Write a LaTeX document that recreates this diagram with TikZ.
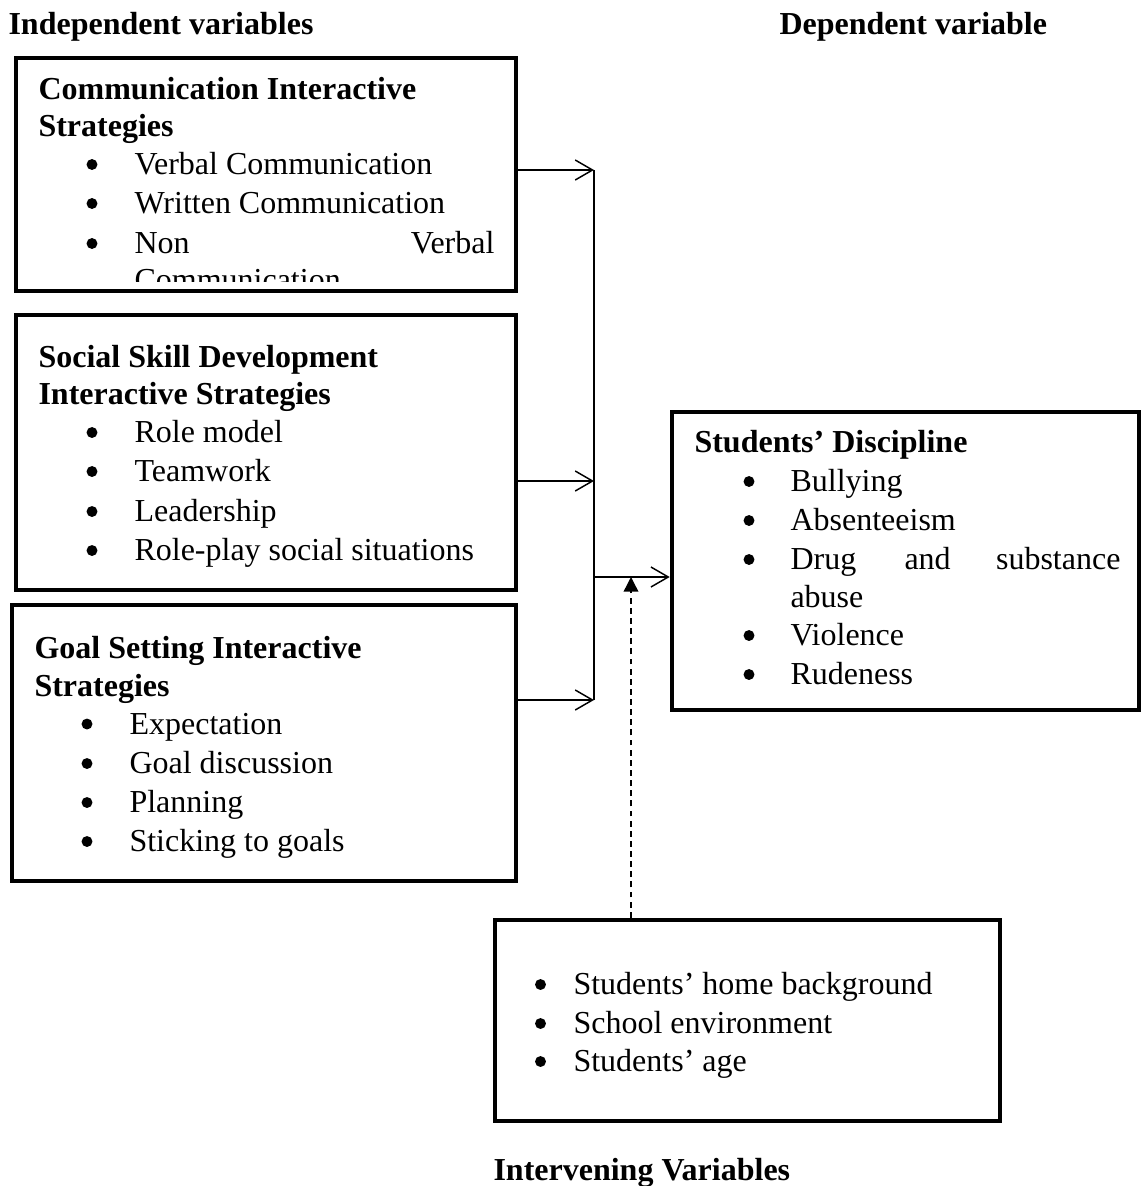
\documentclass[tikz,border=0pt]{standalone}
\usepackage{fontspec}
\setmainfont{Liberation Serif}
\usetikzlibrary{arrows.meta,fit}
\begin{document}
\begin{tikzpicture}[x=0.375pt,y=-0.375pt,
  box/.style={draw, line width=1.7pt, rectangle, inner sep=0pt},
  txt/.style={anchor=base west, inner sep=0pt, font=\fontsize{12}{14}\selectfont},
  txte/.style={anchor=base east, inner sep=0pt, font=\fontsize{12}{14}\selectfont},
  hd/.style={anchor=base west, inner sep=0pt, font=\fontsize{12}{14}\selectfont\bfseries},
  dot/.style={circle, fill=black, inner sep=0pt, minimum size=4.1pt},
  conn/.style={line width=0.55pt},
  arr/.style={conn, -{Straight Barb[length=6.5pt,width=7.5pt]}},
  dasharr/.style={conn, dash pattern=on 2.2pt off 1.6pt, -{Triangle[length=5.5pt,width=5.5pt]}}
]
\useasboundingbox (0,0) rectangle (1142,1186);

% titles
\node[hd] (tind) at (8,34) {Independent variables};
\node[hd] (tdep) at (779,34) {Dependent variable};
\node[hd] (tint) at (493,1180) {Intervening Variables};

% box 1
\begin{scope}
\clip (16,58) rectangle (516,281);
\node[txt] (c4b) at (134,290) {Communication};
\end{scope}
\node[box, fit={(16,58) (516,291)}] (b1) {};
\node[hd] (h1a) at (38,99) {Communication Interactive};
\node[hd] (h1b) at (38,136) {Strategies};
\node[dot] (p11) at (92,164.5) {}; \node[txt] (c1) at (134,174) {Verbal Communication};
\node[dot] (p12) at (92,203.5) {}; \node[txt] (c2) at (134,213) {Written Communication};
\node[dot] (p13) at (92,243.5) {}; \node[txt] (c3a) at (134,253) {Non}; \node[txte] (c3b) at (495,253) {Verbal};

% box 2
\node[box, fit={(16,315) (516,590)}] (b2) {};
\node[hd] (h2a) at (38,367) {Social Skill Development};
\node[hd] (h2b) at (38,404) {Interactive Strategies};
\node[dot] (p21) at (92,432.5) {}; \node[txt] (s1) at (134,442) {Role model};
\node[dot] (p22) at (92,471.5) {}; \node[txt] (s2) at (134,481) {Teamwork};
\node[dot] (p23) at (92,511.5) {}; \node[txt] (s3) at (134,521) {Leadership};
\node[dot] (p24) at (92,550.5) {}; \node[txt] (s4) at (134,560) {Role-play social situations};

% box 3
\node[box, fit={(12,605) (516,881)}] (b3) {};
\node[hd] (h3a) at (34,658) {Goal Setting Interactive};
\node[hd] (h3b) at (34,696) {Strategies};
\node[dot] (p31) at (87,724) {}; \node[txt] (g1) at (129,734) {Expectation};
\node[dot] (p32) at (87,763.5) {}; \node[txt] (g2) at (129,773) {Goal discussion};
\node[dot] (p33) at (87,802.5) {}; \node[txt] (g3) at (129,812) {Planning};
\node[dot] (p34) at (87,841.5) {}; \node[txt] (g4) at (129,851) {Sticking to goals};

% box 4
\node[box, fit={(672,412) (1139,710)}] (b4) {};
\node[hd] (h4) at (694,452) {Students’ Discipline};
\node[dot] (p41) at (749,481.5) {}; \node[txt] (d1) at (790,491) {Bullying};
\node[dot] (p42) at (749,520.5) {}; \node[txt] (d2) at (790,530) {Absenteeism};
\node[dot] (p43) at (749,559.5) {}; \node[txt] (d3a) at (790,569) {Drug};
\node[txt] (d3b) at (904,569) {and}; \node[txte] (d3c) at (1121,569) {substance};
\node[txt] (d3d) at (790,607) {abuse};
\node[dot] (p44) at (749,635.5) {}; \node[txt] (d4) at (790,645) {Violence};
\node[dot] (p45) at (749,674.5) {}; \node[txt] (d5) at (790,684) {Rudeness};

% box 5
\node[box, fit={(495,920) (1000,1121)}] (b5) {};
\node[dot] (p51) at (540.5,984.5) {}; \node[txt] (v1) at (573,994) {Students’ home background};
\node[dot] (p52) at (540.5,1023.5) {}; \node[txt] (v2) at (573,1033) {School environment};
\node[dot] (p53) at (540.5,1061.5) {}; \node[txt] (v3) at (573,1071) {Students’ age};

% connectors
\coordinate (j1) at (594,170);
\coordinate (j2) at (594,481);
\coordinate (j3) at (594,700);
\coordinate (jo) at (594,577);
\coordinate (dt) at (631,577);
\draw[arr] (b1.east |- j1) -- (j1);
\draw[arr] (b2.east |- j2) -- (j2);
\draw[arr] (b3.east |- j3) -- (j3);
\draw[conn] (j1) -- (j3);
\draw[arr] (jo) -- (b4.west |- jo);
\draw[dasharr] (b5.north -| dt) -- (dt);
\end{tikzpicture}
\end{document}
